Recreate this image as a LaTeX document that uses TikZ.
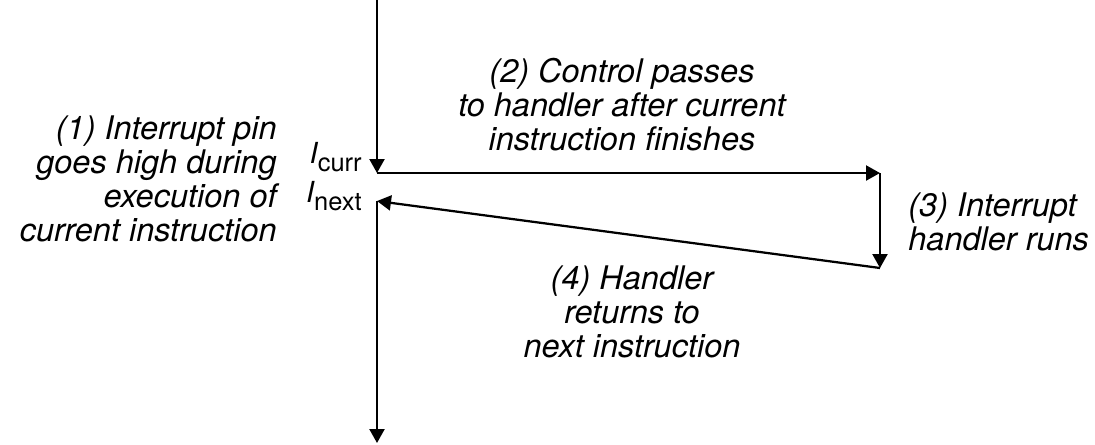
\documentclass[tikz,border=0pt]{standalone}
\usepackage{fontspec}
\setmainfont{TeX Gyre Heros}
\usetikzlibrary{arrows.meta,positioning}
\newcommand{\instr}[1]{{\fontsize{16.5}{18}\selectfont\itshape I}\raisebox{-0.16cm}{\fontsize{14.5}{16}\selectfont\upshape #1}}

\begin{document}
\begin{tikzpicture}[font=\fontsize{18.5}{19.3}\selectfont\itshape,note/.style={inner sep=0pt},flow/.style={-{Triangle[width=0.3cm,length=0.28cm]},line width=0.045cm}]
\useasboundingbox (0,0) rectangle (21.9,-8.88);
\coordinate (start) at (7.54,0);
\coordinate (curr) at (7.54,-3.46);
\coordinate (handler) at (17.6,-3.46);
\coordinate (done) at (17.6,-5.36);
\coordinate (next) at (7.54,-4.02);
\coordinate (finish) at (7.54,-8.86);
% last line of each note sits on its anchor
\node[note,align=right,anchor=base east] (pin) at (5.54,-4.82) {(1) Interrupt pin\\goes high during\\execution of\\current instruction};
\node[note,align=center,anchor=base] (pass) at (12.44,-3.0) {(2) Control passes\\to handler after current\\instruction finishes};
\node[note,align=left,anchor=base west] (runs) at (18.16,-5.0) {(3) Interrupt\\handler runs};
\node[note,align=center,anchor=base] (back) at (12.64,-7.14) {(4) Handler\\returns to\\next instruction};
\node[note,anchor=base east] (icurr) at (7.24,-3.26) {\instr{curr}};
\node[note,anchor=base east] (inext) at (7.24,-4.04) {\instr{next}};
\draw[flow] (start) -- (curr);
\draw[flow] (curr) -- (handler);
\draw[flow] (handler) -- (done);
\draw[flow] (done) -- (next);
\draw[flow] (next) -- (finish);
\end{tikzpicture}
\end{document}
